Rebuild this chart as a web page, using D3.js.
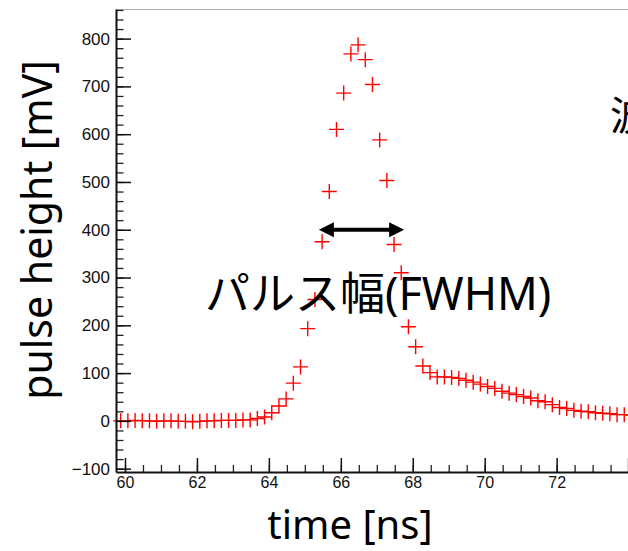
<!DOCTYPE html>
<html>
<head>
<meta charset="utf-8">
<script src="https://cdn.jsdelivr.net/npm/d3@7"></script>
<style>
  body { margin: 0; background: #fff; }
  svg { display: block; }
</style>
</head>
<body>
<div id="my_chart"></div>
<script>
// sample times [ns] and pulse heights [mV]
var times = [
  59.88, 60.08, 60.28, 60.48, 60.68, 60.88, 61.08, 61.28, 61.48, 61.68,
  61.88, 62.08, 62.28, 62.48, 62.68, 62.88, 63.08, 63.28, 63.48, 63.68,
  63.88, 64.08, 64.28, 64.48, 64.68, 64.88, 65.08, 65.28, 65.48, 65.68,
  65.88, 66.08, 66.28, 66.48, 66.68, 66.88, 67.08, 67.28, 67.48, 67.68,
  67.88, 68.08, 68.28, 68.48, 68.68, 68.88, 69.08, 69.28, 69.48, 69.68,
  69.88, 70.08, 70.28, 70.48, 70.68, 70.88, 71.08, 71.28, 71.48, 71.68,
  71.88, 72.08, 72.28, 72.48, 72.68, 72.88, 73.08, 73.28, 73.48, 73.68,
  73.88, 74.08
];
var pulseHeight = [
  0, 0, 1, 0, 0, -1, 0, 0, -1, -1,
  -2, -1, 0, 0, 1, 1, 1, 2, 2, 5,
  8, 17, 31, 46, 79, 113, 193, 254, 375, 480,
  610, 686, 768, 787, 756, 704, 588, 503, 369, 310,
  197, 155, 115, 101, 92, 92, 91, 89, 85, 81,
  77, 72, 68, 62, 58, 55, 51, 48, 42, 40,
  34, 28, 26, 22, 20, 19, 17, 16, 15, 13,
  13, 12
];

// labelled ticks (74 and up fall outside the picture)
var xTickValues = [60, 62, 64, 66, 68, 70, 72];
var yTickValues = [-100, 0, 100, 200, 300, 400, 500, 600, 700, 800];

// FWHM arrow, in data units
var fwhmEdges = [65.39, 67.76];
var fwhmLevel = 400;

var xTitle = "time [ns]";
var yTitle = "pulse height [mV]";
var annotation = "パルス幅(FWHM)";
var sideText = "波高";

buildPulsePlot();

function buildPulsePlot() {
  var width = 628,
    height = 551,
    left = 116,
    top = 9,
    bottom = 472;

  var svg = d3
    .select("#my_chart")
    .append("svg")
    .attr("width", width)
    .attr("height", height);

  svg.append("rect").attr("width", width).attr("height", height).attr("fill", "#fff");

  // X scale (frame runs past the right edge of the picture)
  var x = d3
    .scaleLinear()
    .domain([59.75, 79])
    .range([left, left + 19.25 * 35.97]);

  // Y scale
  var y = d3.scaleLinear().domain([-107, 862]).range([bottom, top]);

  // top edge of the frame
  svg
    .append("line")
    .attr("x1", left)
    .attr("x2", width)
    .attr("y1", top + 0.5)
    .attr("y2", top + 0.5)
    .attr("stroke", "#b0b0b0")
    .attr("stroke-width", 1);

  // markers
  var points = times.map(function (t, i) {
    return { t: t, v: pulseHeight[i] };
  });

  svg
    .append("g")
    .selectAll("path")
    .data(points)
    .enter()
    .append("path")
    .attr("d", "M-7.5,0H7.5M0,-7.5V7.5")
    .attr("transform", function (d) {
      return "translate(" + x(d.t) + "," + y(d.v) + ")";
    })
    .attr("fill", "none")
    .attr("stroke", "#ff0000")
    .attr("stroke-width", 1.4);

  // minor ticks
  svg
    .append("g")
    .attr("transform", "translate(" + left + ",0)")
    .call(
      d3.axisLeft(y).tickValues(d3.range(-100, 861, 20)).tickSize(-7.5).tickFormat("")
    )
    .call(function (g) {
      g.select(".domain").remove();
      g.selectAll("line").attr("stroke", "#222").attr("stroke-width", 1.3);
    });

  svg
    .append("g")
    .attr("transform", "translate(0," + bottom + ")")
    .call(
      d3.axisBottom(x).tickValues(d3.range(60, 79, 0.5)).tickSize(-7).tickFormat("")
    )
    .call(function (g) {
      g.select(".domain").remove();
      g.selectAll("line").attr("stroke", "#222").attr("stroke-width", 1.3);
    });

  // major ticks + labels
  var yAxis = svg
    .append("g")
    .attr("transform", "translate(" + left + ",0)")
    .call(
      d3
        .axisLeft(y)
        .tickValues(yTickValues)
        .tickSizeInner(-15)
        .tickSizeOuter(0)
        .tickPadding(6)
        .tickFormat(function (d) {
          return d < 0 ? "\u2212" + Math.abs(d) : d;
        })
    );
  yAxis.selectAll("line").attr("stroke", "#111").attr("stroke-width", 1.5);
  yAxis.select(".domain").attr("stroke", "#111").attr("stroke-width", 2);
  yAxis
    .selectAll("text")
    .attr("fill", "#111")
    .style("font-family", "'Liberation Sans', Arial, sans-serif")
    .style("font-size", "17px");

  var xAxis = svg
    .append("g")
    .attr("transform", "translate(0," + bottom + ")")
    .call(
      d3
        .axisBottom(x)
        .tickValues(xTickValues)
        .tickSizeInner(-14)
        .tickSizeOuter(0)
        .tickPadding(5)
    );
  xAxis.selectAll("line").attr("stroke", "#111").attr("stroke-width", 1.5);
  xAxis.select(".domain").attr("stroke", "#111").attr("stroke-width", 2);
  xAxis
    .selectAll("text")
    .attr("fill", "#111")
    .style("font-family", "'Liberation Sans', Arial, sans-serif")
    .style("font-size", "16px");

  // major tick at 74 sits at the picture edge, no label
  svg
    .append("line")
    .attr("x1", x(74))
    .attr("x2", x(74))
    .attr("y1", bottom)
    .attr("y2", bottom - 14)
    .attr("stroke", "#111")
    .attr("stroke-width", 1.5);

  // axis titles
  svg
    .append("text")
    .attr("x", 350)
    .attr("y", 539)
    .attr("text-anchor", "middle")
    .style("font-family", "'Noto Sans', sans-serif")
    .style("font-size", "40px")
    .text(xTitle);

  svg
    .append("text")
    .attr("transform", "translate(52,230) rotate(-90)")
    .attr("text-anchor", "middle")
    .style("font-family", "'Noto Sans', sans-serif")
    .style("font-size", "41px")
    .text(yTitle);

  // FWHM double arrow
  var ax1 = x(fwhmEdges[0]),
    ax2 = x(fwhmEdges[1]),
    ay = y(fwhmLevel),
    head = 15;

  svg
    .append("line")
    .attr("x1", ax1 + head - 2)
    .attr("x2", ax2 - head + 2)
    .attr("y1", ay)
    .attr("y2", ay)
    .attr("stroke", "#000")
    .attr("stroke-width", 4);

  svg
    .append("path")
    .attr(
      "d",
      "M" + ax1 + "," + ay + "L" + (ax1 + head) + "," + (ay - 7.5) + "L" + (ax1 + head) + "," + (ay + 7.5) + "Z" +
        "M" + ax2 + "," + ay + "L" + (ax2 - head) + "," + (ay - 7.5) + "L" + (ax2 - head) + "," + (ay + 7.5) + "Z"
    )
    .attr("fill", "#000");

  svg
    .append("text")
    .attr("x", 205)
    .attr("y", 310)
    .style("font-family", "'Noto Sans', 'Noto Sans CJK JP', sans-serif")
    .style("font-size", "45px")
    .text(annotation);

  // slide text cut off at the right edge, as in the reference
  svg
    .append("text")
    .attr("x", 610)
    .attr("y", 130)
    .style("font-family", "'Noto Sans CJK JP', sans-serif")
    .style("font-size", "40px")
    .text(sideText);
}
</script>
</body>
</html>
